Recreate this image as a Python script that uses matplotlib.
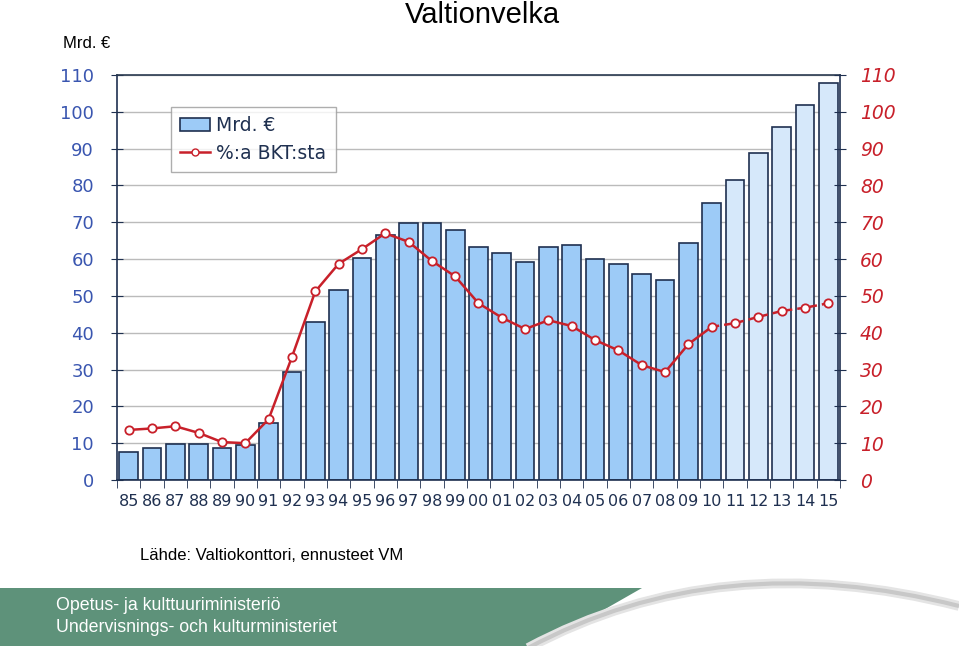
import numpy as np
import matplotlib.pyplot as plt
from matplotlib.patches import Polygon, PathPatch
from matplotlib.path import Path
from matplotlib.lines import Line2D
from matplotlib.patches import Patch

# data
years = ['85', '86', '87', '88', '89', '90', '91', '92', '93', '94', '95', '96', '97', '98', '99',
         '00', '01', '02', '03', '04', '05', '06', '07', '08', '09', '10', '11', '12', '13', '14', '15']
debt_bn = [7.7, 8.7, 9.7, 9.7, 8.7, 9.5, 15.4, 29.2, 43.0, 51.6, 60.4, 66.5, 69.8, 69.8, 68.0,
           63.4, 61.6, 59.2, 63.3, 63.7, 60.0, 58.7, 55.9, 54.3, 64.4, 75.2, 81.5, 88.8, 95.9, 101.8, 107.8]
debt_gdp = [13.6, 14.0, 14.6, 12.8, 10.3, 10.0, 16.5, 33.4, 51.2, 58.7, 62.7, 67.0, 64.7, 59.5, 55.3,
            48.0, 44.1, 41.0, 43.4, 41.8, 38.0, 35.2, 31.2, 29.3, 36.9, 41.6, 42.6, 44.3, 45.9, 46.8, 48.0]
first_forecast = '11'
yticks = [0, 10, 20, 30, 40, 50, 60, 70, 80, 90, 100, 110]

W, H = 959, 646
fig = plt.figure(figsize=(W / 100, H / 100), dpi=100)
fig.patch.set_facecolor('white')

navy = '#1F3050'
red = '#C8202A'
bar_col = '#9DCBF7'
fc_col = '#D6E8FA'

ax = fig.add_axes([117 / W, 1 - 480 / H, (840 - 117) / W, (480 - 75) / H])
x = np.arange(len(years))
fc_i = years.index(first_forecast)
colors = [bar_col if i < fc_i else fc_col for i in x]
ax.bar(x, debt_bn, width=0.8, color=colors, edgecolor=navy, linewidth=1.2, zorder=2)

ax.set_xlim(-0.5, len(years) - 0.5)
ax.set_ylim(0, 110)
ax.set_yticks(yticks)
ax.set_yticklabels([str(v) for v in yticks])
ax.grid(axis='y', color='#BBBBBB', linewidth=1, zorder=0)
ax.set_axisbelow(True)
ax.tick_params(axis='y', direction='inout', length=9, color=navy, labelcolor='#3A56B0',
               labelsize=13, pad=12)
ax.set_xticks(x)
ax.set_xticklabels(years)
ax.set_xticks(np.arange(-0.5, len(years)), minor=True)
ax.tick_params(axis='x', which='major', length=0, labelcolor=navy, labelsize=11.5, pad=10)
ax.tick_params(axis='x', which='minor', direction='out', length=6, color=navy)
for s in ax.spines.values():
    s.set_color(navy)
    s.set_linewidth(1.2)
ax.spines['top'].set_color('#2A3A50')

ax2 = ax.twinx()
ax2.set_ylim(0, 110)
ax2.set_yticks(yticks)
ax2.set_yticklabels([str(v) for v in yticks], style='italic')
ax2.tick_params(axis='y', direction='inout', length=9, color=navy, labelcolor=red,
                labelsize=13.5, pad=10)
for s in ax2.spines.values():
    s.set_visible(False)
ax2.plot(x[:fc_i], debt_gdp[:fc_i], color=red, linewidth=1.8, zorder=3)
ax2.plot(x[fc_i - 1:], debt_gdp[fc_i - 1:], color=red, linewidth=1.8, linestyle=(0, (3, 2)), zorder=3)
ax2.plot(x, debt_gdp, linestyle='none', marker='o', markersize=6, markerfacecolor='white',
         markeredgecolor=red, markeredgewidth=1.3, zorder=4)

handles = [Patch(facecolor=bar_col, edgecolor=navy, linewidth=1.2),
           Line2D([0], [0], color=red, linewidth=1.8, marker='o', markersize=5,
                  markerfacecolor='white', markeredgecolor=red)]
leg = fig.legend(handles, ['Mrd. €', '%:a BKT:sta'], loc='upper left',
                 bbox_to_anchor=(171 / W, 1 - 107 / H), frameon=True, fancybox=False,
                 fontsize=13.5, labelcolor=navy, handlelength=1.6, handletextpad=0.3,
                 borderpad=0.5, labelspacing=0.45, borderaxespad=0)
leg.get_frame().set_edgecolor('#9A9A9A')
leg.get_frame().set_linewidth(1)

narrow = ['Liberation Sans Narrow', 'Liberation Sans', 'DejaVu Sans']
fig.text(482 / W, 1 - 1 / H, 'Valtionvelka', ha='center', va='top', fontsize=21,
         family=narrow)
fig.text(63 / W, 1 - 43 / H, 'Mrd. €', ha='left', va='center', fontsize=12, family=narrow)
fig.text(140 / W, 1 - 556 / H, 'Lähde: Valtiokonttori, ennusteet VM', ha='left', va='center',
         fontsize=12, family='Liberation Sans')

# ministry banner at the bottom
def fy(y):
    return 1 - y / H

green = Polygon([(0, fy(588)), (642 / W, fy(588)), (600 / W, fy(612)), (532 / W, fy(646)),
                 (0, fy(646))], closed=True, transform=fig.transFigure,
                facecolor='#5E927A', edgecolor='none')
fig.patches.append(green)
for lw, c in [(7, '#E4E4E4'), (3, '#C8C8C8')]:
    sw = Path([(528 / W, fy(648)), (720 / W, fy(545)), (959 / W, fy(606))],
              [Path.MOVETO, Path.CURVE3, Path.CURVE3])
    fig.patches.append(PathPatch(sw, transform=fig.transFigure, facecolor='none',
                                 edgecolor=c, linewidth=lw))
fig.text(56 / W, 1 - 605 / H, 'Opetus- ja kulttuuriministeriö', color='white', fontsize=12.8,
         va='center', family=narrow)
fig.text(56 / W, 1 - 628 / H, 'Undervisnings- och kulturministeriet', color='white', fontsize=12.8,
         va='center', family=narrow)

fig.savefig('out.png', dpi=100)
